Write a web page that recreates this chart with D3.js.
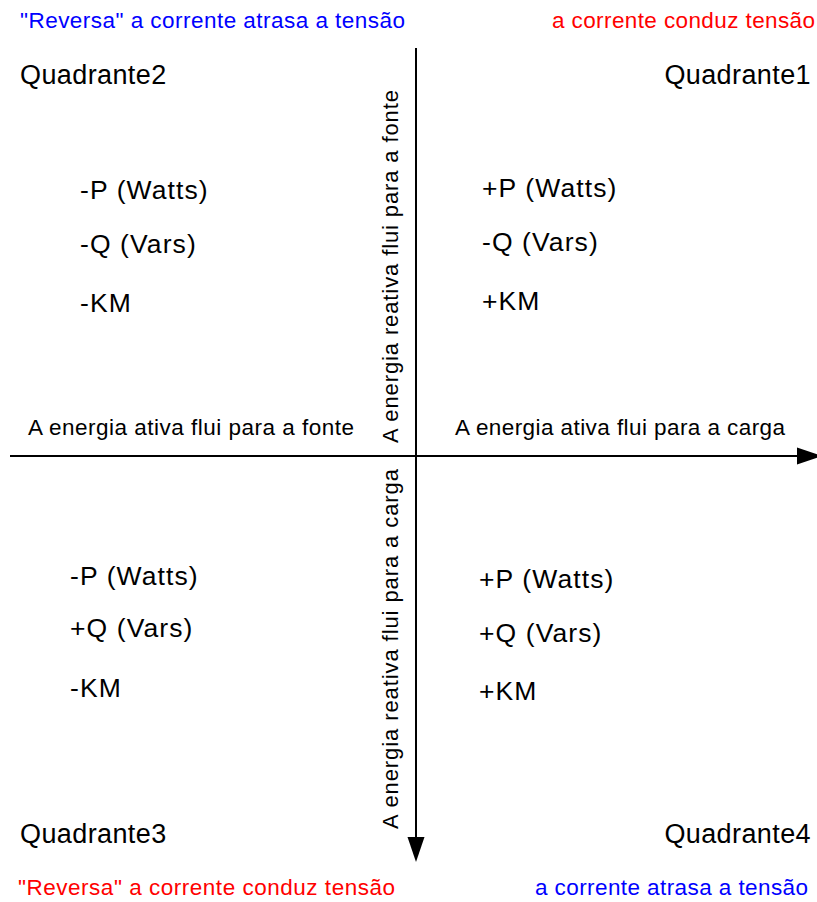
<!DOCTYPE html>
<html>
<head>
<meta charset="utf-8">
<script src="https://cdn.jsdelivr.net/npm/d3@7"></script>
<style>
  html, body { margin: 0; padding: 0; background: #fff; }
  svg { display: block; }
  text { font-family: "Liberation Sans", Arial, sans-serif; }
</style>
</head>
<body>
<div id="chart"></div>
<script>
// ---- data ----
const quadrants = ["Quadrante1", "Quadrante2", "Quadrante3", "Quadrante4"];
const quadrantSignX = [1, -1, -1, 1];
const quadrantSignY = [1, 1, -1, -1];
const pLabels = ["+P (Watts)", "-P (Watts)", "-P (Watts)", "+P (Watts)"];
const qLabels = ["-Q (Vars)", "-Q (Vars)", "+Q (Vars)", "+Q (Vars)"];
const kmLabels = ["+KM", "-KM", "-KM", "+KM"];
const cornerCaptions = [
  "a corrente conduz tensão",
  "\"Reversa\" a corrente atrasa a tensão",
  "\"Reversa\" a corrente conduz tensão",
  "a corrente atrasa a tensão"
];
const captionColors = ["#ff0000", "#0000ff", "#ff0000", "#0000ff"];
const horizontalAxisLabels = ["A energia ativa flui para a carga", "A energia ativa flui para a fonte"];
const verticalAxisLabels = ["A energia reativa flui para a fonte", "A energia reativa flui para a carga"];

// ---- layout ----
const W = 817, H = 902;
const x = d3.scaleLinear().domain([-1, 0, 1]).range([10, 416, 822]);
const y = d3.scaleLinear().domain([1, 0, -1]).range([48, 456, 862]);

const svg = d3.select("#chart").append("svg")
  .attr("width", W).attr("height", H);

// axes
const axisG = svg.append("g");
axisG.append("line")
  .attr("x1", x(-1)).attr("x2", x(1) - 20)
  .attr("y1", y(0)).attr("y2", y(0))
  .attr("stroke", "#000").attr("stroke-width", 2);
axisG.append("line")
  .attr("x1", x(0)).attr("x2", x(0))
  .attr("y1", y(1)).attr("y2", y(-1) - 20)
  .attr("stroke", "#000").attr("stroke-width", 2);
// arrowheads
const ah = 25, aw = 8.5;
axisG.append("path")
  .attr("d", `M${x(1)},${y(0)} L${x(1) - ah},${y(0) - aw} L${x(1) - ah},${y(0) + aw} Z`)
  .attr("fill", "#000");
axisG.append("path")
  .attr("d", `M${x(0)},${y(-1)} L${x(0) - aw},${y(-1) - ah} L${x(0) + aw},${y(-1) - ah} Z`)
  .attr("fill", "#000");

// quadrant titles
quadrants.forEach((name, i) => {
  const sx = quadrantSignX[i], sy = quadrantSignY[i];
  svg.append("text")
    .attr("x", sx > 0 ? 811 : 20)
    .attr("y", sy > 0 ? 84 : 843)
    .attr("text-anchor", sx > 0 ? "end" : "start")
    .attr("font-size", 27)
    .attr("letter-spacing", 0.4)
    .text(name);
});

// P / Q / KM labels per quadrant
const labelX = [482, 80, 70, 479];
const labelY0 = [197, 199, 585, 588];
const rowStep = [[0, 54, 113], [0, 54, 113], [0, 52, 112], [0, 54, 112]];
quadrants.forEach((name, i) => {
  const rows = [pLabels[i], qLabels[i], kmLabels[i]];
  rows.forEach((t, r) => {
    svg.append("text")
      .attr("x", labelX[i])
      .attr("y", labelY0[i] + rowStep[i][r])
      .attr("font-size", 26.5)
      .attr("letter-spacing", 1.1)
      .text(t);
  });
});

// corner captions
cornerCaptions.forEach((t, i) => {
  const sy = quadrantSignY[i];
  const xs = [552, 20, 18, 535];
  const lens = [263, 385, 377, 273];
  svg.append("text")
    .attr("x", xs[i])
    .attr("y", sy > 0 ? 28 : 895)
    .attr("font-size", 22.5)
    .attr("fill", captionColors[i])
    .attr("textLength", lens[i])
    .attr("lengthAdjust", "spacing")
    .text(t);
});

// horizontal axis labels
svg.append("text")
  .attr("x", 455).attr("y", 435)
  .attr("font-size", 22.5)
  .attr("textLength", 330).attr("lengthAdjust", "spacing")
  .text(horizontalAxisLabels[0]);
svg.append("text")
  .attr("x", 28).attr("y", 435)
  .attr("font-size", 22.5)
  .attr("textLength", 326).attr("lengthAdjust", "spacing")
  .text(horizontalAxisLabels[1]);

// vertical axis labels (rotated)
svg.append("text")
  .attr("transform", `translate(398,443) rotate(-90)`)
  .attr("font-size", 22)
  .attr("textLength", 353).attr("lengthAdjust", "spacing")
  .text(verticalAxisLabels[0]);
svg.append("text")
  .attr("transform", `translate(398,829) rotate(-90)`)
  .attr("font-size", 22)
  .attr("textLength", 360).attr("lengthAdjust", "spacing")
  .text(verticalAxisLabels[1]);
</script>
</body>
</html>
